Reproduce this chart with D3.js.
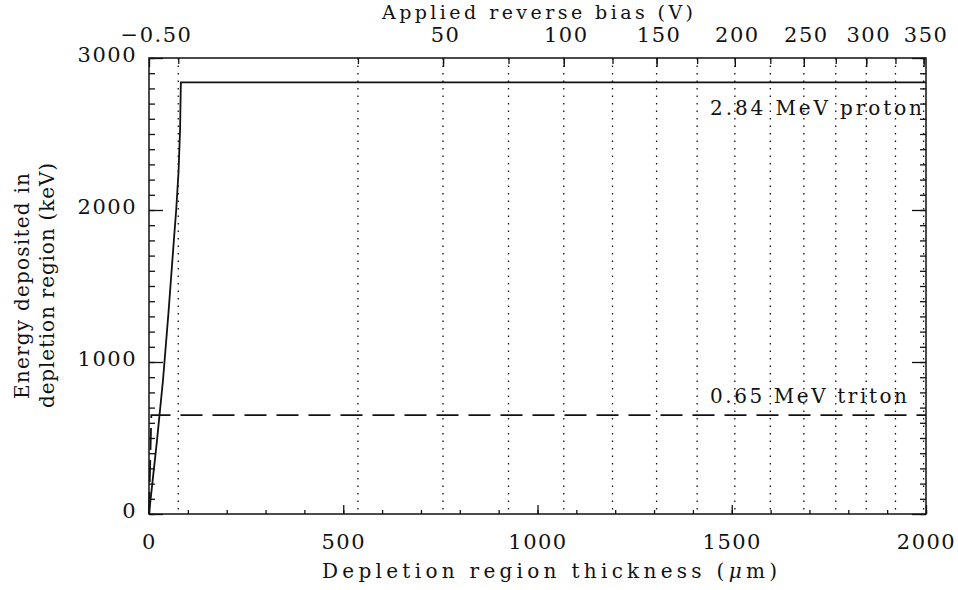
<!DOCTYPE html>
<html>
<head>
<meta charset="utf-8">
<script src="https://cdn.jsdelivr.net/npm/d3@7"></script>
<style>
  html, body { margin: 0; padding: 0; background: #fff; }
  svg { display: block; }
  text { font-family: "DejaVu Serif", "Liberation Serif", serif; fill: #111; }
</style>
</head>
<body>
<svg id="chart" width="958" height="590"></svg>
<script>
// Depletion region thickness (µm) on the bottom axis
const thicknessMajor = [0, 500, 1000, 1500, 2000];
const thicknessMinor = d3.range(0, 2001, 100);
// Energy deposited (keV) on the left axis
const energyMajor = [0, 1000, 2000, 3000];
const energyMinor = d3.range(0, 3001, 100);
// Applied reverse bias (V) on the top axis
const biasTicks = [-0.5, 50, 100, 150, 200, 250, 300, 350];
const biasLabels = ["\u22120.50", "50", "100", "150", "200", "250", "300", "350"];
const biasGrid = [0, 25, 50, 75, 100, 125, 150, 175, 200, 225, 250, 275, 300, 325, 350];

// Energy left in the depletion region by each particle
const protonThickness = [0, 20, 36, 50, 64, 70, 76, 80, 82, 2000];
const protonEnergy    = [0, 470, 880, 1320, 1800, 2000, 2250, 2530, 2840, 2840];
const tritonThickness = [0, 6, 2000];
const tritonEnergy    = [0, 650, 650];

// Depletion width grows with the square root of the total junction voltage
const builtIn = 0.5;      // V
const widthCoeff = 106.5; // µm per sqrt(V)
const depletion = v => widthCoeff * Math.sqrt(v + builtIn);

const svg = d3.select("#chart");
const plotLeft = 149, plotRight = 926, plotTop = 58, plotBottom = 514;

const x = d3.scaleLinear().domain([0, 2000]).range([plotLeft, plotRight]);
const y = d3.scaleLinear().domain([0, 3000]).range([plotBottom, plotTop]);

const tickFont = 21;

function styleAxis(g) {
  g.select(".domain").remove();
  g.selectAll(".tick line").attr("stroke", "#111").attr("stroke-width", 1.3);
  g.selectAll(".tick text")
    .attr("font-size", tickFont)
    .attr("letter-spacing", 1.5)
    .attr("font-family", "DejaVu Serif")
    .attr("fill", "#111");
}

// vertical dotted grid at every 25 V of bias
svg.append("g").selectAll("line").data(biasGrid).join("line")
  .attr("x1", d => x(depletion(d))).attr("x2", d => x(depletion(d)))
  .attr("y1", plotTop).attr("y2", plotBottom)
  .attr("stroke", "#111").attr("stroke-width", 1.3)
  .attr("stroke-dasharray", "1.5,6");

// bottom axis
svg.append("g").attr("transform", `translate(0,${plotBottom})`)
  .call(d3.axisBottom(x).tickValues(thicknessMinor).tickSize(-4).tickFormat(""))
  .call(styleAxis);
svg.append("g").attr("transform", `translate(0,${plotBottom})`)
  .call(d3.axisBottom(x).tickValues(thicknessMajor).tickSize(-9).tickPadding(20).tickFormat(d3.format("d")))
  .call(styleAxis);

// left axis
svg.append("g").attr("transform", `translate(${plotLeft},0)`)
  .call(d3.axisLeft(y).tickValues(energyMinor).tickSize(-6).tickFormat(""))
  .call(styleAxis);
svg.append("g").attr("transform", `translate(${plotLeft},0)`)
  .call(d3.axisLeft(y).tickValues(energyMajor).tickSize(-14).tickPadding(12).tickFormat(d3.format("d")))
  .call(styleAxis)
  .call(g => g.selectAll(".tick text").attr("dy", "0.15em"));

// right axis
svg.append("g").attr("transform", `translate(${plotRight},0)`)
  .call(d3.axisRight(y).tickValues(energyMinor).tickSize(-6).tickFormat(""))
  .call(styleAxis);
svg.append("g").attr("transform", `translate(${plotRight},0)`)
  .call(d3.axisRight(y).tickValues(energyMajor).tickSize(-14).tickFormat(""))
  .call(styleAxis);

// top axis: bias voltage placed at the matching depletion width
svg.append("g").attr("transform", `translate(0,${plotTop})`)
  .call(d3.axisTop(x).tickValues(biasGrid.map(depletion)).tickSize(-6).tickFormat(""))
  .call(styleAxis);
svg.append("g").attr("transform", `translate(0,${plotTop})`)
  .call(d3.axisTop(x).tickValues(biasTicks.map(depletion)).tickSize(-9).tickPadding(16)
    .tickFormat((d, i) => biasLabels[i]))
  .call(styleAxis)
  .call(g => g.selectAll(".tick text").attr("dx", (d, i) => i === 0 ? 7 : 2));

// frame
svg.append("rect")
  .attr("x", plotLeft).attr("y", plotTop)
  .attr("width", plotRight - plotLeft).attr("height", plotBottom - plotTop)
  .attr("fill", "none").attr("stroke", "#111").attr("stroke-width", 1.5);

// curves
const line = d3.line().x(d => x(d[0])).y(d => y(d[1]));
svg.append("path")
  .datum(d3.zip(protonThickness, protonEnergy))
  .attr("d", line).attr("fill", "none")
  .attr("stroke", "#111").attr("stroke-width", 1.8);
svg.append("path")
  .datum(d3.zip(tritonThickness, tritonEnergy))
  .attr("d", line).attr("fill", "none")
  .attr("stroke", "#111").attr("stroke-width", 1.8)
  .attr("stroke-dasharray", "22,10");

// curve labels
svg.append("text").attr("x", 710).attr("y", 115)
  .attr("font-size", 20).attr("textLength", 212).attr("lengthAdjust", "spacing")
  .text("2.84 MeV proton");
svg.append("text").attr("x", 710).attr("y", 403)
  .attr("font-size", 20).attr("textLength", 197).attr("lengthAdjust", "spacing")
  .text("0.65 MeV triton");

// axis titles
svg.append("text").attr("x", 382).attr("y", 19)
  .attr("font-size", 19).attr("textLength", 311).attr("lengthAdjust", "spacing")
  .text("Applied reverse bias (V)");

const xt = svg.append("text").attr("x", 322).attr("y", 578)
  .attr("font-size", 20).attr("textLength", 455).attr("lengthAdjust", "spacing");
xt.append("tspan").text("Depletion region thickness (");
xt.append("tspan").attr("font-style", "italic").text("\u03bc");
xt.append("tspan").text("m)");

const midY = (plotTop + plotBottom) / 2;
svg.append("text")
  .attr("transform", `translate(29,${midY + 113}) rotate(-90)`)
  .attr("font-size", 20).attr("textLength", 226).attr("lengthAdjust", "spacing")
  .text("Energy deposited in");
svg.append("text")
  .attr("transform", `translate(54,${midY + 122}) rotate(-90)`)
  .attr("font-size", 20).attr("textLength", 245).attr("lengthAdjust", "spacing")
  .text("depletion region (keV)");
</script>
</body>
</html>
